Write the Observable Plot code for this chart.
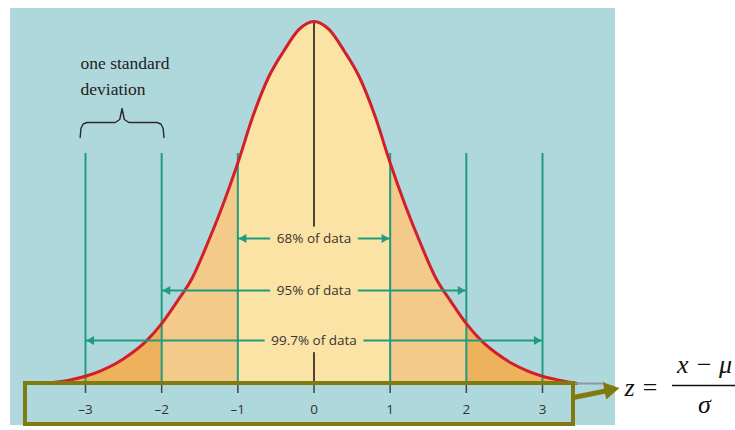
<!DOCTYPE html>
<html><head><meta charset="utf-8">
<script src="https://cdn.jsdelivr.net/npm/d3@7"></script>
<script src="https://cdn.jsdelivr.net/npm/@observablehq/plot@0.6"></script>
<style>html,body{margin:0;padding:0;background:#fff;overflow:hidden}</style>
</head><body><div id="chart"></div>
<script>
// ---- data ----
const curveX = [-3.6,-3.4,-3.2,-3.0,-2.8,-2.6,-2.4,-2.2,-2.0,-1.8,-1.6,-1.4,-1.2,-1.0,-0.8,-0.6,-0.4,-0.2,0,
                 0.2,0.4,0.6,0.8,1.0,1.2,1.4,1.6,1.8,2.0,2.2,2.4,2.6,2.8,3.0,3.2,3.45];
const curveY = [0,0.0015,0.004,0.008,0.014,0.022,0.033,0.047,0.066,0.090,0.116,0.154,0.196,0.243,0.295,0.337,0.366,0.390,0.399,
                 0.390,0.366,0.337,0.295,0.243,0.196,0.154,0.116,0.090,0.066,0.047,0.033,0.022,0.014,0.008,0.004,0];
const bandEdges = [-3.6,-2,-1,1,2,3.45];
const bandFills = ["#eeb15c","#f4ca8b","#fae3a5","#f4ca8b","#eeb15c"];
const sdLines = [-3,-2,-1,1,2,3];
const tickValues = [-3,-2,-1,0,1,2,3];
const tickLabels = ["\u20133","\u20132","\u20131","0","1","2","3"];
const ruleLabels = ["68% of data","95% of data","99.7% of data"];
const ruleSpans = [1,2,3];
const braceText = "one standard\ndeviation";
const formulaNum = "x \u2212 \u03bc";
const formulaDen = "\u03c3";
const formulaLhs = "z =";

// ---- layout ----
const W = 735, H = 430;
const x0px = 313.5, pxPerSd = 76.17, basePx = 383, pxPerUnit = 907.3;
const X = px => (px - x0px) / pxPerSd;
const Y = py => (basePx - py) / pxPerUnit;
const ruleY = [Y(238), Y(290), Y(340)];
const SERIF = "'Liberation Serif', 'Times New Roman', 'DejaVu Serif', serif";

const teal = "#1f9c80", red = "#d21f2c", olive = "#7f7b12";

const pts = curveX.map((x, i) => ({x, y: curveY[i]}));
const bandMarks = bandFills.map((f, i) => {
  const lo = bandEdges[i], hi = bandEdges[i + 1];
  return Plot.areaY(pts.filter(p => p.x >= lo - 1e-9 && p.x <= hi + 1e-9),
    {x: "x", y: "y", fill: f, curve: "monotone-x"});
});

const rules = ruleLabels.map((label, i) => ({label, span: ruleSpans[i], y: ruleY[i]}));
const halves = rules.flatMap(r => [{...r, to: -r.span}, {...r, to: r.span}]);

// brace over one standard deviation (-3 .. -2)
const bx0 = -3.07, bx1 = -1.97, bm = (bx0 + bx1) / 2;
const brace = [
  [bx0, Y(137)], [bx0 + 0.01, Y(128)], [bx0 + 0.04, Y(123.5)], [bx0 + 0.09, Y(122)],
  [bm - 0.09, Y(122)], [bm - 0.03, Y(119)], [bm, Y(108)], [bm + 0.03, Y(119)], [bm + 0.09, Y(122)],
  [bx1 - 0.09, Y(122)], [bx1 - 0.04, Y(123.5)], [bx1 - 0.01, Y(128)], [bx1, Y(137)]
];

const chart = Plot.plot({
  width: W, height: H,
  marginTop: 0, marginRight: 0, marginBottom: 0, marginLeft: 0,
  x: {domain: [X(0), X(W)], axis: null},
  y: {domain: [Y(H), Y(0)], axis: null},
  style: {fontFamily: "'Open Sans', sans-serif", background: "white"},
  marks: [
    Plot.rect([0], {x1: X(10), x2: X(615), y1: Y(425), y2: Y(8), fill: "#afd8dc"}),
    ...bandMarks,
    Plot.ruleX(sdLines, {x: d => d, y1: 0, y2: Y(153), stroke: teal, strokeWidth: 2}),
    Plot.ruleX([0], {x: d => d, y1: curveY[curveX.indexOf(0)], y2: ruleY[0], stroke: "#111", strokeWidth: 1.5}),
    Plot.ruleX([0], {x: d => d, y1: ruleY[2], y2: 0, stroke: "#111", strokeWidth: 1.5}),
    Plot.line(pts, {x: "x", y: "y", stroke: red, strokeWidth: 3, curve: "monotone-x"}),
    Plot.link(halves, {x1: 0, x2: "to", y1: "y", y2: "y", stroke: teal, strokeWidth: 2}),
    Plot.dot(halves.filter(d => d.to > 0), {x: "to", y: "y", symbol: "triangle", r: 3.3, fill: teal,
      rotate: 90, dx: -6}),
    Plot.dot(halves.filter(d => d.to < 0), {x: "to", y: "y", symbol: "triangle", r: 3.3, fill: teal,
      rotate: -90, dx: 6}),
    Plot.text(rules, {x: 0, y: "y", text: "label", fontSize: 13.5, fill: "#3b3530",
      stroke: "#fae3a5", strokeWidth: 15}),
    Plot.ruleY([0], {x1: X(560), x2: X(605), stroke: "#8898a6", strokeWidth: 2}),
    Plot.ruleX(tickValues, {x: d => d, y1: 0, y2: Y(393), stroke: "#444", strokeWidth: 1.5}),
    Plot.text(tickValues, {x: d => d, y: Y(409), text: (d, i) => tickLabels[i], fontSize: 13.5, fill: "#333"}),
    Plot.rect([0], {x1: X(25), x2: X(573), y1: Y(424), y2: 0, fill: "none", stroke: olive, strokeWidth: 4}),
    Plot.link([0], {x1: X(573), y1: Y(397), x2: X(605), y2: Y(390.5), stroke: olive, strokeWidth: 5}),
    Plot.dot([0], {x: X(609), y: Y(389.5), symbol: "triangle", r: 6.5, rotate: 79, fill: olive}),
    Plot.line(brace, {x: d => d[0], y: d => d[1], stroke: "#2a2a2a", strokeWidth: 1.4}),
    Plot.text([braceText], {x: X(80), y: Y(73), text: d => d, textAnchor: "start", lineHeight: 1.5,
      fontFamily: SERIF, fontSize: 17.5, fill: "#222", ariaLabel: "serif-text"}),
    Plot.text([formulaLhs], {x: X(624), y: Y(387), text: d => d, textAnchor: "start",
      fontFamily: SERIF, fontStyle: "italic", fontSize: 26, fill: "#111", ariaLabel: "serif-text"}),
    Plot.text([formulaNum], {x: X(704), y: Y(364), text: d => d,
      fontFamily: SERIF, fontStyle: "italic", fontSize: 26, fill: "#111", ariaLabel: "serif-text"}),
    Plot.ruleY([Y(385)], {y: d => d, x1: X(672), x2: X(735), stroke: "#111", strokeWidth: 1.5}),
    Plot.text([formulaDen], {x: X(704), y: Y(404), text: d => d,
      fontFamily: SERIF, fontStyle: "italic", fontSize: 26, fill: "#111", ariaLabel: "serif-text"})
  ]
});
d3.select(chart).selectAll('g[aria-label="serif-text"]').style("font-family", SERIF)
  .selectAll("text").style("font-family", SERIF);
document.getElementById("chart").appendChild(chart);
</script>
</body></html>
